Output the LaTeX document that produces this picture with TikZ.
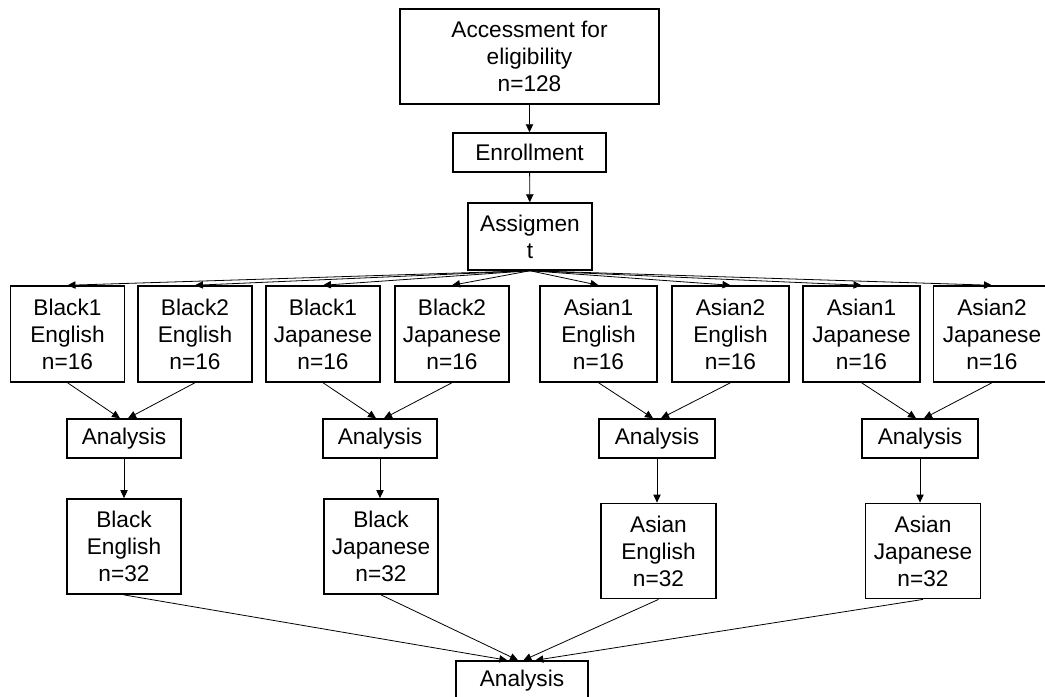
\documentclass[tikz,border=0pt]{standalone}
\usepackage{fontspec}
\setmainfont{Liberation Sans}
\usepackage{tikz}
\usetikzlibrary{arrows.meta}

\begin{document}
\begin{tikzpicture}[x=0.75pt,y=-0.75pt,
                    every path/.style={line width=0.6pt},
                    arr/.style={-{Triangle[length=6pt,width=5.5pt]}},
                    box/.style={draw,line width=1.1pt,inner sep=0pt,align=center,
                                font=\fontsize{17}{20.3}\selectfont},
                    grp node/.style={box,minimum width=85.5pt,minimum height=72pt},
                    ana node/.style={box,minimum width=87pt,minimum height=29.25pt},
                    res node/.style={box,minimum width=86.5pt,minimum height=71.5pt}]
      \useasboundingbox (0,0) rectangle (1045,696);

      \node[box,minimum width=194.25pt,minimum height=71.25pt] (acc) at (529.5,56.5) {Accessment for\\eligibility\\n=128};
      \node[box,minimum width=114.75pt,minimum height=29.25pt] (enr) at (529.5,152.5) {Enrollment};
      \node[box,minimum width=93pt,minimum height=50.25pt] (asg) at (530,236.5) {Assigmen\\t};

      \node[grp node] (b1e) at (67.5,334) {Black1\\English\\n=16};
      \node[grp node] (b2e) at (195,334) {Black2\\English\\n=16};
      \node[grp node] (b1j) at (323,334) {Black1\\Japanese\\n=16};
      \node[grp node] (b2j) at (452,334) {Black2\\Japanese\\n=16};
      \node[grp node,minimum width=87.75pt] (a1e) at (598.5,334) {Asian1\\English\\n=16};
      \node[grp node,minimum width=87.75pt] (a2e) at (730.5,334) {Asian2\\English\\n=16};
      \node[grp node,minimum width=87.75pt] (a1j) at (861.5,334) {Asian1\\Japanese\\n=16};
      \node[grp node,minimum width=87.75pt] (a2j) at (992,334) {Asian2\\Japanese\\n=16};

      \node[ana node,minimum width=85.5pt] (anbe) at (124,438.5) {Analysis};
      \node[ana node,minimum width=85.5pt] (anbj) at (380,438.5) {Analysis};
      \node[ana node] (anae) at (657,438.5) {Analysis};
      \node[ana node] (anaj) at (920,438.5) {Analysis};

      \node[res node,minimum width=85.5pt] (be) at (124,546.5) {Black\\English\\n=32};
      \node[res node,minimum width=85.5pt] (bj) at (381,546.5) {Black\\Japanese\\n=32};
      \node[res node] (ae) at (658.5,551) {Asian\\English\\n=32};
      \node[res node] (aj) at (923,551) {Asian\\Japanese\\n=32};

      \node[box,minimum width=99pt,minimum height=29.25pt] (fin) at (522,680.5) {Analysis};

      \path[arr] (acc) edge (enr);
      \path[arr] (enr) edge (asg);
      %
      \path[arr] (asg.south) edge (b1e.north);
      \path[arr] (asg.south) edge (b2e.north);
      \path[arr] (asg.south) edge (b1j.north);
      \path[arr] (asg.south) edge (b2j.north);
      \path[arr] (asg.south) edge (a1e.north);
      \path[arr] (asg.south) edge (a2e.north);
      \path[arr] (asg.south) edge (a1j.north);
      \path[arr] (asg.south) edge (a2j.north);
      %
      \path[arr] (b1e.south) edge ([xshift=-3pt]anbe.north);
      \path[arr] (b2e.south) edge ([xshift=3pt]anbe.north);
      \path[arr] (b1j.south) edge ([xshift=-3pt]anbj.north);
      \path[arr] (b2j.south) edge ([xshift=3pt]anbj.north);
      \path[arr] (a1e.south) edge ([xshift=-3pt]anae.north);
      \path[arr] (a2e.south) edge ([xshift=3pt]anae.north);
      \path[arr] (a1j.south) edge ([xshift=-3pt]anaj.north);
      \path[arr] (a2j.south) edge ([xshift=3pt]anaj.north);
      %
      \path[arr] (anbe.south) edge (anbe.south |- be.north);
      \path[arr] (anbj.south) edge (anbj.south |- bj.north);
      \path[arr] (anae.south) edge (anae.south |- ae.north);
      \path[arr] (anaj.south) edge (anaj.south |- aj.north);
      %
      \path[arr] (be.south) edge ([xshift=-11pt]fin.north);
      \path[arr] (bj.south) edge ([xshift=-3pt]fin.north);
      \path[arr] (ae.south) edge ([xshift=1pt]fin.north);
      \path[arr] (aj.south) edge ([xshift=10pt]fin.north);
\end{tikzpicture}
\end{document}
